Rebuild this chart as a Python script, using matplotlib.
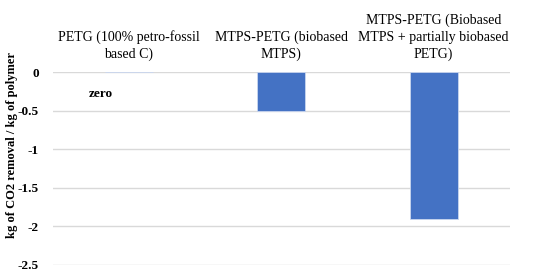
import matplotlib.pyplot as plt

# data
categories = ["PETG (100% petro-fossil\nbased C)",
              "MTPS-PETG (biobased\nMTPS)",
              "MTPS-PETG (Biobased\nMTPS + partially biobased\nPETG)"]
values = [0.0, -0.51, -1.91]
yticks = [0, -0.5, -1, -1.5, -2, -2.5]
ytick_labels = ["0", "-0.5", "-1", "-1.5", "-2", "-2.5"]

serif = ["Liberation Serif", "DejaVu Serif"]

fig = plt.figure(figsize=(5.5, 2.78), dpi=100)
ax = fig.add_axes([0.096, 0.047, 0.831, 0.694])

x = range(len(categories))
ax.bar(x, values, width=0.315, color="#4472C4", edgecolor="#c9d6ef", linewidth=0.6, zorder=3)

ax.set_xlim(-0.5, 2.5)
ax.set_ylim(-2.5, 0)
ax.set_yticks(yticks)
ax.set_yticklabels(ytick_labels, fontsize=9.5, fontweight="bold", family=serif)
ax.tick_params(axis="y", length=0, pad=10)

ax.xaxis.tick_top()
ax.set_xticks(list(x))
ax.set_xticklabels(categories, fontsize=10, family=serif, linespacing=1.35)
ax.tick_params(axis="x", length=0, pad=8)

ax.grid(axis="y", color="#d9d9d9", linewidth=1, zorder=0)
for s in ax.spines.values():
    s.set_visible(False)

# label for the zero-valued bar
ax.text(-0.185, -0.29, "zero", ha="center", va="center", fontsize=9.5,
        fontweight="bold", family=serif)

fig.text(0.022, 0.48, "kg of CO2 removal / kg of polymer", rotation=90,
         ha="center", va="center", fontsize=9, fontweight="bold", family=serif)

fig.savefig("out.png", dpi=100)
